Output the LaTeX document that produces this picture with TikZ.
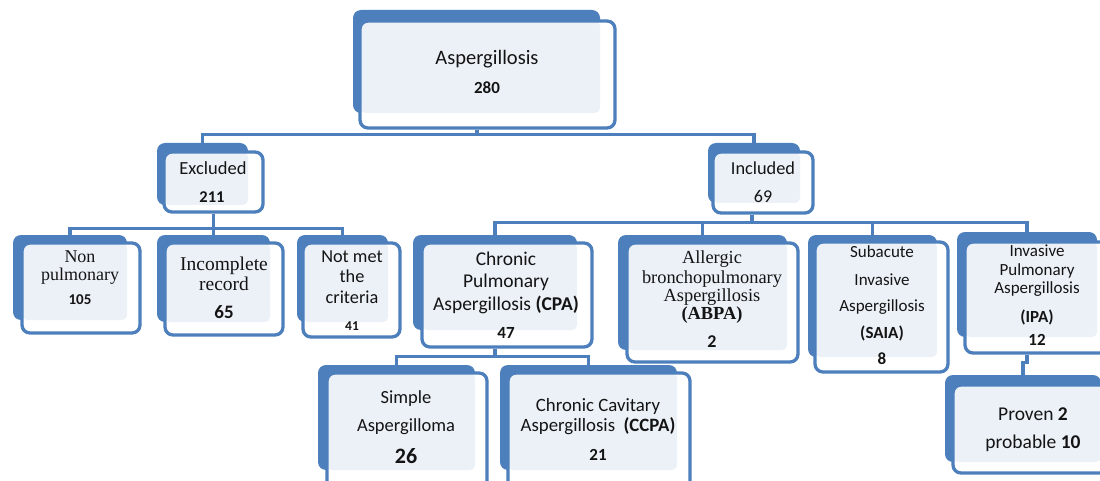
\documentclass[tikz,border=0pt]{standalone}
\usepackage{fontspec}
\setmainfont{Carlito}
\newfontfamily\serifb{Liberation Serif}
\usetikzlibrary{fit}
\definecolor{bblue}{RGB}{76,127,188}
\definecolor{lightfill}{RGB}{236,241,248}
\definecolor{txtc}{RGB}{20,20,20}
\newcommand\fs[1]{\fontsize{#1}{#1}\selectfont}
\tikzset{
  backbox/.style={fill=bblue, rounded corners=8pt, inner sep=0pt, draw=none},
  frontbox/.style={draw=bblue, line width=3.3pt, rounded corners=8pt, inner sep=0pt},
  conn/.style={draw=bblue, line width=3.2pt},
  tl/.style={anchor=base, inner sep=0pt, text=txtc},
}
% #1 name, #2-#5 back box, #6-#9 front box
\newcommand\obox[9]{%
  \node[backbox, fit={(#2,#3)(#4,#5)}] (#1b) {};
  \fill[white, rounded corners=8pt] (#6,#7) rectangle (#8,#9);
  \fill[lightfill, rounded corners=5pt] (#6,#7) rectangle (#4,#5);
  \node[frontbox, fit={(#6,#7)(#8,#9)}] (#1) {};
}
\begin{document}
\begin{tikzpicture}[x=1pt,y=-1pt]
\fill[white] (0,0) rectangle (1100,481);
\useasboundingbox (0,0) rectangle (1100,481);

\obox{top}{353}{10}{600}{113}{360}{21}{615}{128}
\obox{excl}{157}{143}{248}{205}{164}{152}{263}{212}
\obox{incl}{708}{143}{800}{203}{713}{152}{813}{213}
\obox{nonp}{13}{235}{127}{320}{22}{243}{140}{333}
\obox{inc}{157}{235}{270}{322}{165}{243}{283}{335}
\obox{notm}{297}{235}{388}{322}{303}{243}{400}{337}
\obox{cpa}{413}{235}{577}{330}{422}{243}{592}{347}
\obox{abpa}{618}{235}{787}{350}{627}{243}{798}{362}
\obox{saia}{808}{235}{937}{357}{815}{242}{948}{372}
\obox{ipa}{957}{232}{1097}{337}{965}{242}{1108}{353}
\obox{simp}{318}{365}{475}{470}{327}{373}{487}{492}
\obox{ccpa}{500}{365}{677}{470}{508}{373}{690}{492}
\obox{prov}{945}{375}{1101}{462}{953}{385}{1113}{473}

% connectors
\draw[conn] ([xshift=-10.5pt]top.south) -- ++(0,5) coordinate (j0);
\draw[conn] (exclb.north) |- (j0) -| (inclb.north);
\draw[conn] (excl.south) -- ++(0,15) coordinate (j1);
\draw[conn] (nonpb.north) |- (j1) -| (notmb.north);
\draw[conn] (j1) -- (incb.north);
\draw[conn] ([xshift=-11pt]incl.south) -- ++(0,8) coordinate (j2);
\draw[conn] (cpab.north) |- (j2) -| (ipab.north);
\draw[conn] (abpab.north) -- (abpab.north |- j2);
\draw[conn] (saiab.north) -- (saiab.north |- j2);
\draw[conn] (cpab.south |- cpa.south) -- ++(0,8) coordinate (j3);
\draw[conn] (simpb.north) |- (j3) -| (ccpab.north);
\draw[conn] (ipab.south |- ipa.south) -- ++(0,8) -| (provb.north);

% texts
\node[tl] (t1) at (487,65) {\fs{20.5}Aspergillosis};
\node[tl] (t2) at (487,94) {\fs{17}\bfseries 280};
\node[tl] (t3) at (213,175) {\fs{18.5}Excluded};
\node[tl] (t4) at (212,203) {\fs{16.5}\bfseries 211};
\node[tl] (t5) at (763,175) {\fs{18.3}Included};
\node[tl] (t6) at (763,203) {\fs{18}69};
\node[tl] (t7) at (80,262) {\serifb\fs{18}Non};
\node[tl] (t8) at (80,280) {\serifb\fs{18}pulmonary};
\node[tl] (t9) at (80,304) {\fs{15}\bfseries 105};
\node[tl] (t10) at (224,270) {\serifb\fs{19.5}Incomplete};
\node[tl] (t11) at (224,290) {\serifb\fs{19.5}record};
\node[tl] (t12) at (224,318) {\fs{19}\bfseries 65};
\node[tl] (t13) at (352,262) {\fs{18.3}Not met};
\node[tl] (t14) at (352,282) {\fs{18.3}the};
\node[tl] (t15) at (352,303) {\fs{18.3}criteria};
\node[tl] (t16) at (352,330) {\fs{13.5}\bfseries 41};
\node[tl] (t17) at (506,265) {\fs{19.5}Chronic};
\node[tl] (t18) at (506,287) {\fs{19.5}Pulmonary};
\node[tl] (t19) at (506,310) {\fs{19.5}Aspergillosis \textbf{(CPA)}};
\node[tl] (t20) at (506,338) {\fs{17}\bfseries 47};
\node[tl] (t21) at (712,263) {\serifb\fs{18.4}Allergic};
\node[tl] (t22) at (712,283) {\serifb\fs{18.4}bronchopulmonary};
\node[tl] (t23) at (712,301) {\serifb\fs{18.4}Aspergillosis};
\node[tl] (t24) at (712,319) {\serifb\fs{18.4}\bfseries (ABPA)};
\node[tl] (t25) at (712,347) {\fs{18}\bfseries 2};
\node[tl] (t26) at (882,258) {\fs{17}Subacute};
\node[tl] (t27) at (882,285) {\fs{17}Invasive};
\node[tl] (t28) at (882,311) {\fs{17}Aspergillosis};
\node[tl] (t29) at (882,338) {\fs{17}\bfseries (SAIA)};
\node[tl] (t30) at (882,364) {\fs{17}\bfseries 8};
\node[tl] (t31) at (1037,256) {\fs{17}Invasive};
\node[tl] (t32) at (1037,275) {\fs{17}Pulmonary};
\node[tl] (t33) at (1037,293) {\fs{17}Aspergillosis};
\node[tl] (t34) at (1037,322) {\fs{17}\bfseries (IPA)};
\node[tl] (t35) at (1037,345) {\fs{17}\bfseries 12};
\node[tl] (t36) at (406,403) {\fs{18.5}Simple};
\node[tl] (t37) at (406,431) {\fs{18.5}Aspergilloma};
\node[tl] (t38) at (406,463) {\fs{22}\bfseries 26};
\node[tl] (t39) at (598,411) {\fs{18.8}Chronic Cavitary};
\node[tl] (t40) at (598,431) {\fs{18.8}Aspergillosis\ \ \textbf{(CCPA)}};
\node[tl] (t41) at (598,460) {\fs{17}\bfseries 21};
\node[tl] (t42) at (1033,420) {\fs{19.5}Proven \textbf{2}};
\node[tl] (t43) at (1033,448) {\fs{19.5}probable \textbf{10}};
\end{tikzpicture}
\end{document}
